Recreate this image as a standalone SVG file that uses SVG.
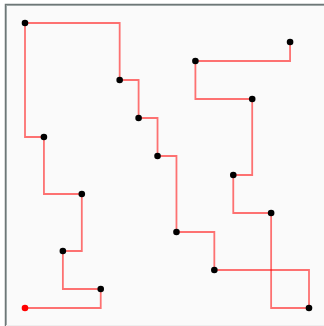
<svg xmlns="http://www.w3.org/2000/svg" width="324" height="326" viewBox="0 0 324 326">
<style>
.bg{fill:#fafafa}
.frame{stroke:#6e7777;stroke-width:1.5;fill:none}
.frame2{stroke:#b0b8b8;stroke-width:1;fill:none}
.edge{fill:none;stroke:#ff0000;stroke-opacity:0.55;stroke-width:1.8}
.pt{fill:#000}
.start{fill:#ff0000}
</style>
<rect x="0" y="0" width="324" height="326" fill="#ffffff"/>
<rect class="bg" x="6" y="5" width="318" height="321"/>
<path class="frame2" d="M6.5 326 V5.5 H324"/>
<path class="frame" d="M5.5 326 V4.5 H324"/>
<rect x="6" y="325" width="318" height="1" fill="#eeeeee"/>
<g id="connectors">
<path class="edge" d="M25 308 H100.73 V289"/>
<path class="edge" d="M100.73 289 H62.87 V251"/>
<path class="edge" d="M62.87 251 H81.8 V194"/>
<path class="edge" d="M81.8 194 H43.93 V137"/>
<path class="edge" d="M43.93 137 H25 V23"/>
<path class="edge" d="M25 23 H119.67 V80"/>
<path class="edge" d="M119.67 80 H138.6 V118"/>
<path class="edge" d="M138.6 118 H157.53 V156"/>
<path class="edge" d="M157.53 156 H176.47 V232"/>
<path class="edge" d="M176.47 232 H214.33 V270"/>
<path class="edge" d="M214.33 270 H309 V308"/>
<path class="edge" d="M309 308 H271.13 V213"/>
<path class="edge" d="M271.13 213 H233.27 V175"/>
<path class="edge" d="M233.27 175 H252.2 V99"/>
<path class="edge" d="M252.2 99 H195.4 V61"/>
<path class="edge" d="M195.4 61 H290.07 V42"/>
</g>
<g id="n0"><circle class="start" cx="25" cy="308" r="3.3"/></g>
<g id="n1"><circle class="pt" cx="100.73" cy="289" r="3.3"/></g>
<g id="n2"><circle class="pt" cx="62.87" cy="251" r="3.3"/></g>
<g id="n3"><circle class="pt" cx="81.8" cy="194" r="3.3"/></g>
<g id="n4"><circle class="pt" cx="43.93" cy="137" r="3.3"/></g>
<g id="n5"><circle class="pt" cx="25" cy="23" r="3.3"/></g>
<g id="n6"><circle class="pt" cx="119.67" cy="80" r="3.3"/></g>
<g id="n7"><circle class="pt" cx="138.6" cy="118" r="3.3"/></g>
<g id="n8"><circle class="pt" cx="157.53" cy="156" r="3.3"/></g>
<g id="n9"><circle class="pt" cx="176.47" cy="232" r="3.3"/></g>
<g id="n10"><circle class="pt" cx="214.33" cy="270" r="3.3"/></g>
<g id="n11"><circle class="pt" cx="309" cy="308" r="3.3"/></g>
<g id="n12"><circle class="pt" cx="271.13" cy="213" r="3.3"/></g>
<g id="n13"><circle class="pt" cx="233.27" cy="175" r="3.3"/></g>
<g id="n14"><circle class="pt" cx="252.2" cy="99" r="3.3"/></g>
<g id="n15"><circle class="pt" cx="195.4" cy="61" r="3.3"/></g>
<g id="n16"><circle class="pt" cx="290.07" cy="42" r="3.3"/></g>
</svg>
